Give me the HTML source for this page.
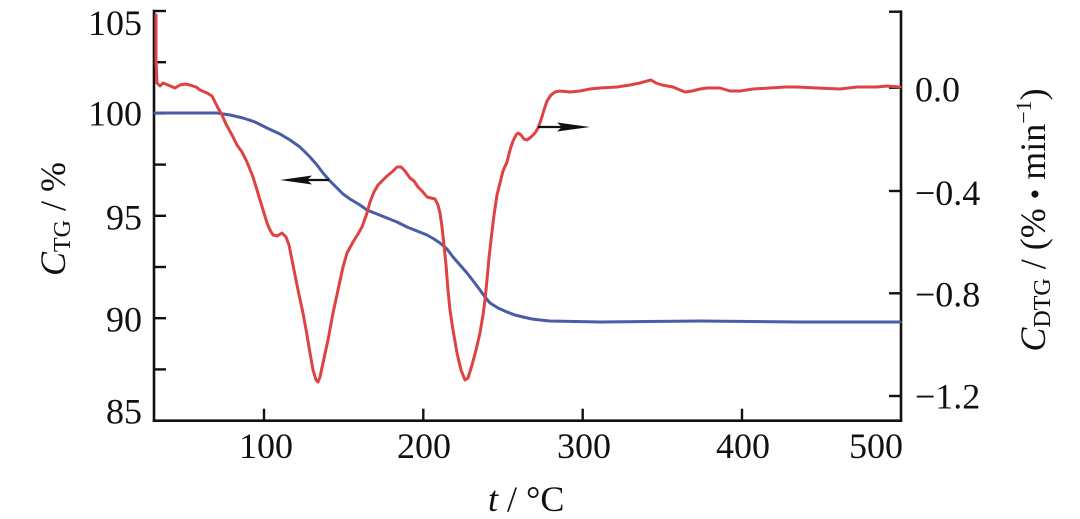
<!DOCTYPE html>
<html>
<head>
<meta charset="utf-8">
<style>
html,body{margin:0;padding:0;background:#fff;}
svg{display:block;}
text{font-family:"Liberation Serif","Times New Roman",serif;fill:#111;}
</style>
</head>
<body>
<svg width="1080" height="519" viewBox="0 0 1080 519" xmlns="http://www.w3.org/2000/svg">
<rect width="1080" height="519" fill="#fff"/>

<!-- axes -->
<g stroke="#111" stroke-width="2.6" fill="none" stroke-linecap="square">
  <line x1="154" y1="11" x2="154" y2="420.7"/>
  <line x1="154" y1="420.7" x2="901" y2="420.7"/>
  <line x1="901" y1="11.7" x2="901" y2="420.7"/>
</g>
<!-- left ticks -->
<g stroke="#111" stroke-width="2.4">
  <line x1="154" y1="11" x2="166" y2="11"/>
  <line x1="154" y1="62.2" x2="166" y2="62.2"/>
  <line x1="154" y1="113.4" x2="166" y2="113.4"/>
  <line x1="154" y1="164.6" x2="166" y2="164.6"/>
  <line x1="154" y1="215.8" x2="166" y2="215.8"/>
  <line x1="154" y1="267" x2="166" y2="267"/>
  <line x1="154" y1="318.2" x2="166" y2="318.2"/>
  <line x1="154" y1="369.4" x2="166" y2="369.4"/>
  <!-- right ticks -->
  <line x1="889" y1="11.7" x2="901" y2="11.7"/>
  <line x1="889" y1="87.7" x2="901" y2="87.7"/>
  <line x1="889" y1="191" x2="901" y2="191"/>
  <line x1="889" y1="293.3" x2="901" y2="293.3"/>
  <line x1="889" y1="396" x2="901" y2="396"/>
  <!-- x ticks -->
  <line x1="264" y1="420.7" x2="264" y2="408.7"/>
  <line x1="423.3" y1="420.7" x2="423.3" y2="408.7"/>
  <line x1="582.7" y1="420.7" x2="582.7" y2="408.7"/>
  <line x1="742" y1="420.7" x2="742" y2="408.7"/>
</g>

<!-- TG curve (blue) -->
<polyline fill="none" stroke="#4b5ca6" stroke-width="3" stroke-linejoin="round" stroke-linecap="round"
points="155,113 180,113 200,113 217,113 230,115 243,118 255,122 267,128 280,134 290,140 300,147 310,157 317,165 323,173 330,181 337,188 343,194 350,199 360,205 367,210 377,214 387,218 397,222 407,227 417,231 427,235 434,239 440,243 447,249 453,257 460,265 467,273 474,282 480,290 485,297 490,303 498,308 507,312 515,315 523,317 532,319 540,320 550,321 600,322 700,321 800,322 900,322"/>

<!-- DTG curve (red) -->
<polyline fill="none" stroke="#de4242" stroke-width="3" stroke-linejoin="round" stroke-linecap="round"
points="156,15 156,60 157,83 160,86 163,83 168,85 175,88 180,85 185,84 190,85 196,87 200,90 207,93 212,96 215,102 218,108 222,115 226,124 232,135 237,145 242,152 247,162 253,177 257,190 260,200 264,213 267,223 270,230 273,235 277,236 282,233 286,237 289,245 293,265 298,290 303,313 307,335 310,353 313,370 316,380 318,382 320,377 323,363 328,340 333,313 338,290 343,267 347,253 353,242 358,234 362,227 367,213 370,202 374,192 378,185 383,180 387,176 392,172 397,167 401,167 405,171 410,178 414,181 418,187 423,192 427,197 431,198 435,199 438,205 440,213 442,227 444,245 446,265 448,290 450,310 453,330 457,353 461,370 465,380 468,378 472,365 476,350 480,333 483,315 485,300 487,280 489,258 491,240 494,215 497,195 500,183 503,171 507,162 510,150 513,141 516,135 518,133 521,135 524,139 527,140 531,137 535,133 538,128 541,120 544,110 547,101 551,95 555,92 560,91 570,92 580,91 590,89 600,88 617,87 630,85 640,83 647,81 651,80 656,83 662,85 673,87 680,90 685,92 692,91 700,89 707,88 720,88 730,91 740,91 753,89 770,88 785,87 797,87 817,88 840,89 857,87 877,87 887,86 900,87"/>

<!-- arrows -->
<line x1="329" y1="180" x2="300" y2="180" stroke="#111" stroke-width="2.2"/>
<polygon points="280,180 312,175.5 307,180 312,184.5" fill="#111"/>
<line x1="538" y1="127" x2="566" y2="127" stroke="#111" stroke-width="2.2"/>
<polygon points="590,127 557,122.5 562,127 557,131.5" fill="#111"/>

<!-- left tick labels -->
<g font-size="36" text-anchor="end">
  <text x="142" y="35">105</text>
  <text x="142" y="125.3">100</text>
  <text x="142" y="229.3">95</text>
  <text x="142" y="331.3">90</text>
  <text x="142" y="423.3">85</text>
</g>
<!-- right tick labels -->
<g font-size="36" text-anchor="start">
  <text x="915" y="101.5">0.0</text>
  <text x="915" y="205">−0.4</text>
  <text x="915" y="306.5">−0.8</text>
  <text x="915" y="408.5">−1.2</text>
</g>
<!-- x tick labels -->
<g font-size="36" text-anchor="middle">
  <text x="266" y="458">100</text>
  <text x="424" y="458">200</text>
  <text x="584" y="458">300</text>
  <text x="743" y="458">400</text>
  <text x="903" y="458" text-anchor="end">500</text>
</g>

<!-- x axis title -->
<text x="488" y="511" font-size="36"><tspan font-style="italic">t</tspan> / °C</text>

<!-- left y title -->
<text transform="translate(65,219) rotate(-90)" font-size="36" text-anchor="middle"><tspan font-style="italic">C</tspan><tspan font-size="24" dy="5">TG</tspan><tspan dy="-5"> / %</tspan></text>

<!-- right y title -->
<text transform="translate(1045,220) rotate(-90)" font-size="36" text-anchor="middle"><tspan font-style="italic">C</tspan><tspan font-size="24" dy="5">DTG</tspan><tspan dy="-5"> / (% </tspan><tspan font-size="30">•</tspan><tspan> min</tspan><tspan font-size="22" dy="-14">−1</tspan><tspan dy="14">)</tspan></text>
</svg>
</body>
</html>
